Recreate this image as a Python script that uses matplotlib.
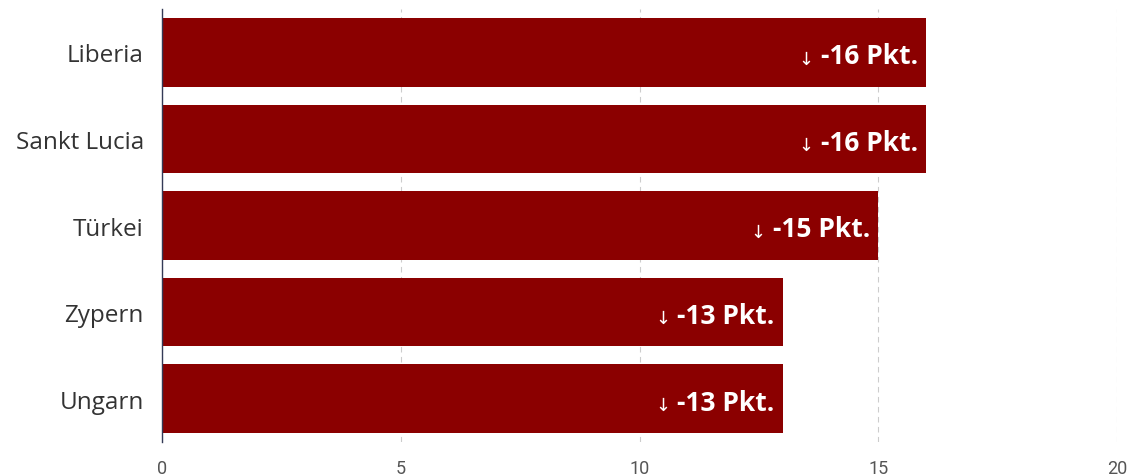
import matplotlib
matplotlib.use("Agg")
import matplotlib.pyplot as plt
from matplotlib.transforms import offset_copy

countries = ["Liberia", "Sankt Lucia", "Türkei", "Zypern", "Ungarn"]
values = [16, 16, 15, 13, 13]
labels = ["-16 Pkt.", "-16 Pkt.", "-15 Pkt.", "-13 Pkt.", "-13 Pkt."]
xticks = [0, 5, 10, 15, 20]

fig = plt.figure(figsize=(11.39, 4.77), dpi=100)
ax = fig.add_axes([162/1139, 1-443/477, (1117-162)/1139, (443-10)/477])

y = list(range(len(countries)))
ax.barh(y, values, height=0.79, color="#8b0000", zorder=2)
ax.set_ylim(len(countries)-0.5, -0.5)
ax.set_xlim(0, 20)
ax.set_yticks(y)
ax.set_yticklabels(countries, fontfamily="Open Sans", fontsize=17.5, color="#333333")
ax.set_xticks(xticks)
ax.set_xticklabels([str(t) for t in xticks], fontfamily="Roboto", fontsize=13, color="#555555")
ax.tick_params(axis="y", length=0, pad=13)
ax.tick_params(axis="x", length=0, pad=12)
ax.grid(axis="x", color="#cccccc", linestyle=(0, (5, 4)), linewidth=0.8, zorder=0)
for s in ["top", "right", "bottom"]:
    ax.spines[s].set_visible(False)
ax.spines["left"].set_color("#333a56")
ax.spines["left"].set_linewidth(1.0)

fig.canvas.draw()
renderer = fig.canvas.get_renderer()
for yi, v, lab in zip(y, values, labels):
    t = ax.text(v, yi, lab, ha="right", va="center", color="white",
                fontfamily="Open Sans", fontweight="bold", fontsize=19,
                transform=offset_copy(ax.transData, fig=fig, x=-6, y=-2.5, units="points"), zorder=3)
    bb = t.get_window_extent(renderer=renderer)
    ax.annotate("↓", xy=(bb.x0, (bb.y0+bb.y1)/2), xycoords="figure pixels",
                xytext=(-5, -2), textcoords="offset points", ha="right", va="center",
                color="white", fontfamily="DejaVu Sans", fontsize=13, zorder=3)

fig.savefig("out.png", dpi=100)
